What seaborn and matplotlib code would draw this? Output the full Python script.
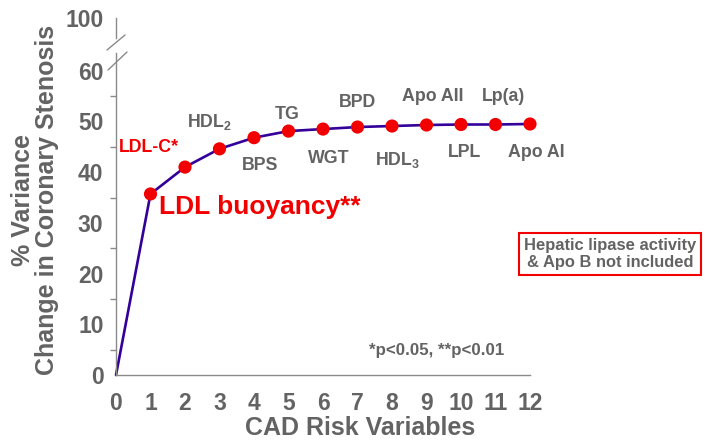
import matplotlib
matplotlib.use("Agg")
import matplotlib.pyplot as plt
from matplotlib.lines import Line2D
import seaborn as sns
import pandas as pd

# ---- data ----
n_vars = [0, 1, 2, 3, 4, 5, 6, 7, 8, 9, 10, 11, 12]
pct_variance = [0, 35.7, 41.0, 44.6, 46.8, 48.1, 48.5, 48.9, 49.1, 49.3, 49.4, 49.4, 49.5]
var_names = ["LDL buoyancy**", "LDL-C*", r"HDL$_\mathbf{2}$", "BPS", "TG", "WGT", "BPD",
             r"HDL$_\mathbf{3}$", "Apo AII", "LPL", "Lp(a)", "Apo AI"]
x_ticks = list(range(0, 13))
y_ticks = [0, 10, 20, 30, 40, 50, 60]
y_top_tick = [100]

# annotation placement (data coords)
name_x = [4.17, 0.96, 2.71, 4.17, 4.96, 6.17, 7.01, 8.17, 9.19, 10.09, 11.22, 12.17]
name_y = [33.2, 44.8, 49.8, 41.4, 51.3, 42.6, 53.8, 42.4, 54.9, 43.8, 54.9, 43.8]

sns.set_theme(style="white")
plt.rcParams["font.family"] = ["Liberation Sans", "DejaVu Sans"]
plt.rcParams["font.weight"] = "bold"
plt.rcParams["mathtext.fontset"] = "custom"
plt.rcParams["mathtext.rm"] = "Liberation Sans:bold"
plt.rcParams["mathtext.bf"] = "Liberation Sans:bold"

GRAY = "#636363"
RED = "#f20000"
LINE = "#33009a"
SPINE = "#8a8a8a"

W, H = 712, 445
fig = plt.figure(figsize=(W / 100, H / 100), dpi=100)

def fx(px):
    return px / W

def fy(py):
    return (H - py) / H

ax = fig.add_axes([fx(116), fy(375), fx(530) - fx(116), fy(53) - fy(375)])
ax_top = fig.add_axes([fx(116), fy(38), fx(530) - fx(116), fy(17.7) - fy(38)])

df = pd.DataFrame({"n": n_vars, "v": pct_variance})
sns.lineplot(data=df, x="n", y="v", ax=ax, color=LINE, lw=1.9, clip_on=False)
sns.scatterplot(data=df.iloc[1:], x="n", y="v", ax=ax, color=RED, s=90,
                edgecolor="none", zorder=5, clip_on=False)

ax.set_xlim(0, 12)
ax.set_ylim(0, 63.5)
ax.set_xticks(x_ticks)
ax.set_yticks(y_ticks)
ax.set_yticks([5, 15, 25, 35, 45, 55], minor=True)
ax.set_xlabel("")
ax.set_ylabel("")
for s in ["top", "right"]:
    ax.spines[s].set_visible(False)
for s in ["left", "bottom"]:
    ax.spines[s].set_color(SPINE)
    ax.spines[s].set_linewidth(1.0)
ax.tick_params(axis="both", which="both", direction="out", length=4, width=1.0,
               color=SPINE, labelcolor=GRAY, labelsize=16.5)
ax.tick_params(axis="x", pad=8)
ax.tick_params(axis="y", pad=5)
ax.tick_params(axis="y", which="minor", left=True, length=4)
for lab in ax.get_xticklabels() + ax.get_yticklabels():
    lab.set_fontweight("bold")

# top broken segment
ax_top.set_ylim(96, 100)
ax_top.set_xlim(0, 12)
ax_top.set_yticks(y_top_tick)
ax_top.set_xticks([])
for s in ["top", "right", "bottom"]:
    ax_top.spines[s].set_visible(False)
ax_top.spines["left"].set_color(SPINE)
ax_top.spines["left"].set_linewidth(1.0)
ax_top.patch.set_alpha(0)
ax_top.tick_params(axis="y", direction="out", length=4, width=1.0, color=SPINE,
                   labelcolor=GRAY, labelsize=16.5, pad=5)
for lab in ax_top.get_yticklabels():
    lab.set_fontweight("bold")

# break marks
for (x0, y0, x1, y1) in [(107, 50, 125, 35), (108, 70, 127, 52)]:
    fig.add_artist(Line2D([fx(x0), fx(x1)], [fy(y0), fy(y1)], color=SPINE, lw=1.0))

# point labels
for i, (name, lx, ly) in enumerate(zip(var_names, name_x, name_y)):
    if i == 0:
        ax.text(lx, ly, name, color=RED, fontsize=19, fontweight="bold",
                ha="center", va="center")
    elif i == 1:
        ax.text(lx, ly, name, color=RED, fontsize=12.8, fontweight="bold",
                ha="center", va="center")
    else:
        ax.text(lx, ly, name, color=GRAY, fontsize=12.8, fontweight="bold",
                ha="center", va="center", clip_on=False)

ax.text(9.3, 4.9, "*p<0.05, **p<0.01", color=GRAY, fontsize=12.2,
        fontweight="bold", ha="center", va="center")

fig.text(fx(610), fy(254), "Hepatic lipase activity\n& Apo B not included",
         color=GRAY, fontsize=11.9, fontweight="bold", ha="center", va="center",
         linespacing=1.1,
         bbox=dict(boxstyle="square,pad=0.3", facecolor="white", edgecolor=RED, lw=1.5))

fig.text(fx(360), fy(428), "CAD Risk Variables", color=GRAY, fontsize=18,
         fontweight="bold", ha="center", va="center")
fig.text(fx(35), fy(200), "% Variance\nChange in Coronary Stenosis", color=GRAY,
         fontsize=18, fontweight="bold", ha="center", va="center", rotation=90,
         linespacing=1.05)

fig.savefig("out.png", dpi=100)
